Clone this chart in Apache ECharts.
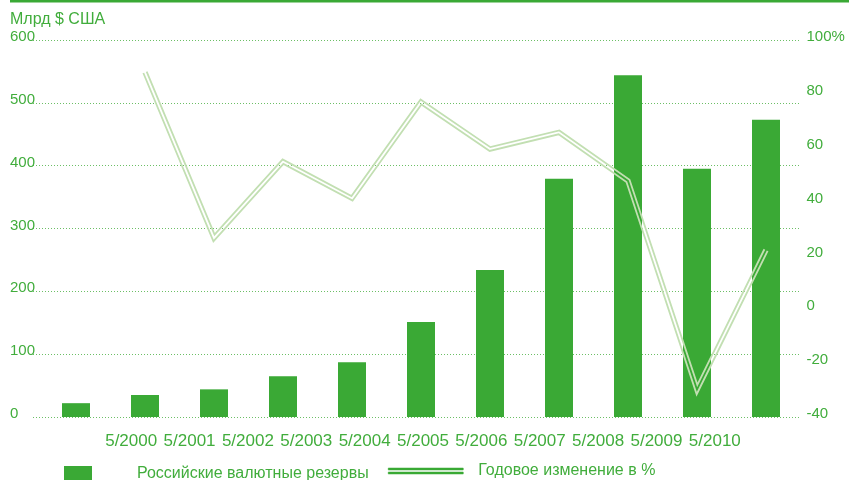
<!DOCTYPE html>
<html>
<head>
<meta charset="utf-8">
<script src="https://cdn.jsdelivr.net/npm/echarts@6/dist/echarts.min.js"></script>
<style>
  html, body { margin: 0; padding: 0; background: #fff; }
  #reserves { width: 849px; height: 480px; }
</style>
</head>
<body>
<div id="reserves"></div>
<script>
// Резервы РФ, млрд $ и годовое изменение, %
const years = ['2000', '2001', '2002', '2003', '2004', '2005', '2006', '2007', '2008', '2009', '2010'];
const yearLabels = ['5/2000', '5/2001', '5/2002', '5/2003', '5/2004', '5/2005', '5/2006', '5/2007', '5/2008', '5/2009', '5/2010'];
const reserves = [22, 35, 44, 65, 87, 151, 234, 379, 544, 395, 473];
const changePct = [null, 88, 26.5, 54.8, 41.2, 77, 59.5, 65.7, 47.7, -29.8, 22];

const green = '#3aa935';
const textGreen = '#41ad3c';
const paleGreen = '#c2dfb2';

const linePoints = changePct
    .map((v, i) => [i, v])
    .filter(d => d[1] !== null);

// сдвиг ломаной на d пикселей по нормали (двойная линия)
function offsetLine(pts, d) {
    const norm = (p1, p2) => {
        const dx = p2[0] - p1[0], dy = p2[1] - p1[1];
        const l = Math.hypot(dx, dy);
        return [-dy / l, dx / l];
    };
    return pts.map((p, i) => {
        const n1 = i > 0 ? norm(pts[i - 1], p) : norm(p, pts[i + 1]);
        const n2 = i < pts.length - 1 ? norm(p, pts[i + 1]) : n1;
        let mx = n1[0] + n2[0], my = n1[1] + n2[1];
        const ml = Math.hypot(mx, my);
        mx /= ml; my /= ml;
        const k = d / (mx * n1[0] + my * n1[1]);
        return [p[0] + mx * k, p[1] + my * k];
    });
}

const chart = echarts.init(document.getElementById('reserves'));

const option = {
    animation: false,
    textStyle: { fontFamily: '"Liberation Sans", Arial, sans-serif' },
    title: {
        text: 'Млрд $ США',
        left: 10,
        top: 12,
        padding: 0,
        textStyle: { color: textGreen, fontSize: 16, fontWeight: 'normal' }
    },
    graphic: [{
        type: 'rect',
        left: 10,
        top: 0,
        shape: { width: 839, height: 2.5 },
        style: { fill: green }
    }],
    legend: [{
        left: 64,
        top: 466,
        padding: 0,
        itemWidth: 28,
        itemHeight: 16,
        selectedMode: false,
        data: [{ name: 'Российские валютные резервы', icon: 'rect', itemStyle: { color: green } }],
        textStyle: { color: textGreen, fontSize: 16, padding: [0, 0, 6, 40] }
    }, {
        left: 388,
        top: 463,
        padding: 0,
        itemWidth: 75,
        itemHeight: 6,
        selectedMode: false,
        data: [{
            name: 'Годовое изменение в %',
            icon: 'path://M0,0H75V2H0Z M0,4H75V6H0Z',
            itemStyle: { color: green, borderColor: green, borderWidth: 0.5, opacity: 1 }
        }],
        textStyle: { color: textGreen, fontSize: 16, padding: [0, 0, 0, 10] }
    }],
    grid: [
        { left: 33, right: 49, top: 40, bottom: 63 },
        { left: 41.5, right: 48.5, top: 40, bottom: 63 },
        { left: 102, right: 105, top: 40, bottom: 63 }
    ],
    xAxis: [
        { gridIndex: 0, type: 'value', show: false },
        { gridIndex: 1, type: 'category', data: years, show: false },
        {
            gridIndex: 2,
            type: 'category',
            data: yearLabels,
            axisLine: { show: false },
            axisTick: { show: false },
            axisLabel: { interval: 0, margin: 16, color: textGreen, fontSize: 17 }
        }
    ],
    yAxis: [
        {
            gridIndex: 0,
            type: 'value',
            min: 0,
            max: 600,
            interval: 100,
            axisLine: { show: false },
            axisTick: { show: false },
            axisLabel: {
                margin: 23,
                align: 'left',
                verticalAlign: 'bottom',
                lineHeight: 6,
                color: textGreen,
                fontSize: 15
            },
            splitLine: { lineStyle: { color: '#6cbf66', width: 1, type: [1, 2] } }
        },
        { gridIndex: 1, type: 'value', min: 0, max: 600, show: false },
        {
            gridIndex: 1,
            type: 'value',
            position: 'right',
            min: -40,
            max: 100,
            interval: 20,
            axisLine: { show: false },
            axisTick: { show: false },
            splitLine: { show: false },
            axisLabel: {
                margin: 6,
                align: 'left',
                verticalAlign: 'bottom',
                lineHeight: 6,
                color: textGreen,
                fontSize: 15,
                formatter: v => (v === 100 ? '100%' : String(v))
            }
        },
        { gridIndex: 2, type: 'value', show: false }
    ],
    series: [
        {
            name: 'Российские валютные резервы',
            type: 'bar',
            xAxisIndex: 1,
            yAxisIndex: 1,
            barWidth: 28,
            itemStyle: { color: green },
            data: reserves
        },
        {
            name: 'Годовое изменение в %',
            type: 'custom',
            xAxisIndex: 1,
            yAxisIndex: 2,
            z: 5,
            itemStyle: { color: green },
            data: linePoints,
            renderItem: function (params, api) {
                if (params.dataIndex !== 0) return null;
                const pts = linePoints.map(d => api.coord(d));
                return {
                    type: 'group',
                    children: [1.8, -1.8].map(off => ({
                        type: 'polyline',
                        shape: { points: offsetLine(pts, off) },
                        style: { stroke: paleGreen, lineWidth: 1.8, fill: null, lineJoin: 'miter', miterLimit: 20 }
                    }))
                };
            }
        }
    ]
};

chart.setOption(option);
</script>
</body>
</html>
